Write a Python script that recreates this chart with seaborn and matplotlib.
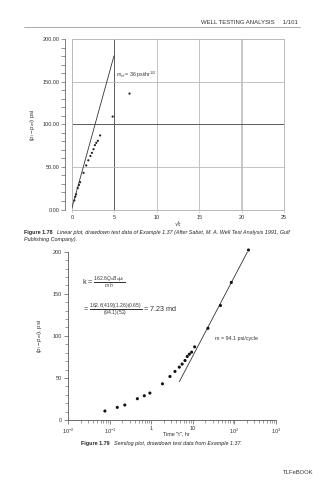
import numpy as np
import pandas as pd
import matplotlib
matplotlib.use("Agg")
import matplotlib.pyplot as plt
import seaborn as sns
from matplotlib.ticker import MultipleLocator, LogLocator, NullFormatter

# Drawdown test data (Example 1.37)
time_hr = [0.076, 0.151, 0.229, 0.46, 0.676, 0.92, 1.85, 2.8, 3.7, 4.7, 5.5,
           6.45, 7.3, 8.2, 9.3, 11.0, 23.0, 46.0, 84.0, 217.0]
dp_psi = [10.7, 15.0, 17.8, 25.3, 28.8, 32.0, 43.0, 51.7, 57.7, 62.8, 66.4,
          70.7, 75.5, 78.2, 80.6, 86.9, 109.0, 136.0, 163.5, 202.0]

# Linear-flow (sqrt t) straight line
m_vf = 36.0
vf_intercept = 2.0
vf_sqrt_t = [0.0, 4.95]

# Semilog straight line
m_semilog = 94.1
semilog_intercept = -17.8
semilog_t = [4.72, 217.0]

lin_xticks = [0, 5, 10, 15, 20, 25]
lin_yticks = [0, 50, 100, 150, 200]
lin_ylabels = ["0.00", "50.00", "100.00", "150.00", "200.00"]
log_xticks = [1e-2, 1e-1, 1, 10, 1e2, 1e3]
log_xlabels = [r"$10^{-2}$", r"$10^{-1}$", "1", "10", r"$10^{2}$", r"$10^{3}$"]
log_yticks = [0, 50, 100, 150, 200]

sns.set_style("white")
plt.rcParams["font.family"] = ["Liberation Sans", "DejaVu Sans"]
plt.rcParams["mathtext.fontset"] = "custom"
plt.rcParams["mathtext.rm"] = "Liberation Sans"
plt.rcParams["mathtext.it"] = "Liberation Sans:italic"
plt.rcParams["mathtext.bf"] = "Liberation Sans:bold"

W, H = 322, 480
fig = plt.figure(figsize=(W / 100, H / 100), dpi=100)
fig.patch.set_facecolor("white")
renderer = fig.canvas.get_renderer()


def px(x, y):
    return x / W, 1 - y / H


def axes_px(left, top, right, bottom):
    return [left / W, 1 - bottom / H, (right - left) / W, (bottom - top) / H]


def caption(x, y, label, body, size=3.85):
    t = fig.text(*px(x, y), label, fontsize=size, fontweight="bold", va="center",
                 ha="left", color="#222222")
    bb = t.get_window_extent(renderer=renderer)
    fig.text(bb.x1 / W + 4 / W, 1 - y / H, body, fontsize=size, style="italic",
             va="center", ha="left", color="#222222")


df = pd.DataFrame({"t": time_hr, "dp": dp_psi})
df["sqrt_t"] = np.sqrt(df["t"])

# ---------- page header ----------
fig.text(*px(298, 23), "WELL TESTING ANALYSIS     1/101", ha="right", va="center",
         fontsize=4.3, color="#333333")
fig.add_artist(plt.Line2D([24 / W, 300 / W], [1 - 26.5 / H, 1 - 26.5 / H],
                          color="#9a9a9a", lw=0.6))

# ---------- linear plot ----------
ax1 = fig.add_axes(axes_px(72, 39, 284, 209.5))
ax1.set_xlim(0, 25)
ax1.set_ylim(0, 200)
light = "#b9b9b9"
for x in [10, 15]:
    ax1.axvline(x, color=light, lw=0.6, zorder=0)
ax1.axvline(20, color="#c4c4c4", lw=1.3, zorder=0)
ax1.axvline(5, color="#5a5a5a", lw=0.7, zorder=0)
for y in [50, 150]:
    ax1.axhline(y, color=light, lw=0.6, zorder=0)
ax1.axhline(100, color="#5a5a5a", lw=0.7, zorder=0)
for s in ["top", "right", "bottom"]:
    ax1.spines[s].set_color(light)
    ax1.spines[s].set_linewidth(0.7)
ax1.spines["left"].set_color("#6a6a6a")
ax1.spines["left"].set_linewidth(0.6)
ax1.spines["left"].set_position(("outward", 5))
ax1.plot([0, 0], [0, 200], color=light, lw=0.7, clip_on=False, zorder=0)

early = df[df["t"] <= 50]
sns.scatterplot(data=early, x="sqrt_t", y="dp", ax=ax1, color="#222222", s=2.5,
                marker="o", edgecolor="none", legend=False, zorder=3)
line_vf = pd.DataFrame({"x": vf_sqrt_t,
                        "y": [vf_intercept + m_vf * v for v in vf_sqrt_t]})
sns.lineplot(data=line_vf, x="x", y="y", ax=ax1, color="#333333", lw=0.6)
ax1.text(5.15, 158, r"$m_{vf}$ = 36 psi/hr$^{1/2}$", fontsize=3.8, color="#333333",
         va="center")

ax1.set_xticks(lin_xticks)
ax1.set_xticklabels([str(v) for v in lin_xticks])
ax1.set_yticks(lin_yticks)
ax1.set_yticklabels(lin_ylabels)
ax1.yaxis.set_minor_locator(MultipleLocator(10))
ax1.tick_params(axis="y", which="major", left=True, length=3, width=0.5,
                color="#6a6a6a", labelsize=4, labelcolor="#333333", pad=1)
ax1.tick_params(axis="y", which="minor", left=True, length=3, width=0.5,
                color="#6a6a6a")
ax1.tick_params(axis="x", bottom=True, length=2, width=0.4, color=light,
                labelsize=4, labelcolor="#333333", pad=2)
ax1.set_xlabel("\u221at", fontsize=4.5, color="#333333", labelpad=1,
               family=["DejaVu Sans"])
ax1.set_ylabel(r"$(p_i - p_{wf})$ psi", fontsize=4.3, color="#333333", labelpad=4)

# ---------- caption 1 ----------
caption(24, 233, "Figure 1.78",
        "Linear plot, drawdown test data of Example 1.37 (After Sabet, M. A. "
        "Well Test Analysis 1991, Gulf")
fig.text(*px(24, 239), "Publishing Company).", fontsize=3.85, style="italic",
         va="center", ha="left", color="#222222")

# ---------- semilog plot ----------
ax2 = fig.add_axes(axes_px(68.3, 251.7, 276, 420))
ax2.set_xscale("log")
ax2.set_xlim(1e-2, 1e3)
ax2.set_ylim(0, 200)
sns.despine(ax=ax2)
for s in ["left", "bottom"]:
    ax2.spines[s].set_color("#555555")
    ax2.spines[s].set_linewidth(0.6)

sns.scatterplot(data=df, x="t", y="dp", ax=ax2, color="#111111", s=5,
                marker="o", edgecolor="none", legend=False, zorder=3, clip_on=False)
line_sl = pd.DataFrame({"x": semilog_t,
                        "y": [semilog_intercept + m_semilog * np.log10(v) for v in semilog_t]})
sns.lineplot(data=line_sl, x="x", y="y", ax=ax2, color="#333333", lw=0.6)

ax2.set_xticks(log_xticks)
ax2.set_xticklabels(log_xlabels)
ax2.xaxis.set_minor_locator(LogLocator(base=10, subs=np.arange(2, 10)))
ax2.xaxis.set_minor_formatter(NullFormatter())
ax2.set_yticks(log_yticks)
ax2.set_yticklabels([str(v) for v in log_yticks])
ax2.yaxis.set_minor_locator(MultipleLocator(10))
ax2.tick_params(axis="both", which="major", length=3, width=0.5, color="#555555",
                labelsize=4, labelcolor="#333333", pad=1.5, bottom=True, left=True)
ax2.tick_params(axis="both", which="minor", length=2, width=0.4, color="#555555",
                bottom=True, left=True)
ax2.set_xlabel('Time "t", hr', fontsize=4, color="#333333")
ax2.xaxis.set_label_coords(0.518, -0.066)
ax2.set_ylabel(r"$(p_i - p_{wf})$, psi", fontsize=4.3, color="#333333", labelpad=6)

ax2.text(0.066, 0.82,
         r"k = $\frac{162.6 Q_o B_o \mu_o}{mh}$", transform=ax2.transAxes,
         fontsize=5.2, color="#333333", va="center")
ax2.text(0.071, 0.655,
         r"= $\frac{162.6(419)(1.26)(0.65)}{(94.1)(52)}$ = 7.23 md",
         transform=ax2.transAxes, fontsize=5.2, color="#333333", va="center")
ax2.text(0.705, 0.485, "m = 94.1 psi/cycle", transform=ax2.transAxes,
         fontsize=3.8, color="#333333", va="center")

# ---------- caption 2 ----------
caption(81, 443, "Figure 1.79",
        "Semilog plot, drawdown test data from Example 1.37.")

fig.text(*px(313, 473), "TLFeBOOK", fontsize=4.2, ha="right", va="center",
         color="#333333")

fig.savefig("out.png", dpi=100, facecolor="white")
